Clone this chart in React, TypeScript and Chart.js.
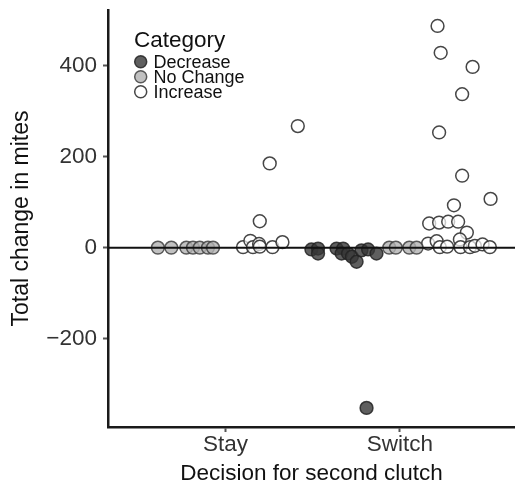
import React, { useEffect, useRef } from "react";
import { Chart, registerables } from "chart.js";

Chart.register(...registerables);

const decisions = ["Stay", "Switch"];
const yTickValues = [-200, 0, 200, 400];
const categories = ["Decrease", "No Change", "Increase"];

// jittered x positions (1 = Stay, 2 = Switch) and values
const decreaseX = [1.493, 1.531, 1.531, 1.637, 1.675, 1.666, 1.703, 1.725, 1.752, 1.780, 1.818, 1.866, 1.809];
const decreaseY = [-4, -2, -13, -2, -2, -13, -13, -20, -31, -6, -4, -13, -352];

const noChangeX = [0.613, 0.690, 0.776, 0.814, 0.853, 0.900, 0.929, 1.939, 1.977, 2.054, 2.096];
const noChangeY = [0, 0, 0, 0, 0, 0, 0, 0, 0, 0, 0];

const increaseX = [
  1.101, 1.143, 1.158, 1.193, 1.197, 1.270, 1.327, 1.197, 1.254, 1.415,
  2.216, 2.234, 2.417, 2.357, 2.225, 2.357, 2.520, 2.310, 2.168, 2.225, 2.277, 2.334,
  2.384, 2.344, 2.162, 2.211, 2.229, 2.271, 2.348, 2.402, 2.430, 2.474, 2.516,
];
const increaseY = [
  1, 15, 1, 8, 2, 1, 12, 58, 185, 267,
  487, 428, 397, 337, 253, 158, 107, 93, 53, 55, 57, 57,
  33, 18, 9, 14, 1, 2, 1, 1, 4, 7, 1,
];

const fills = ["rgba(55,55,55,0.8)", "rgba(178,178,178,0.8)", "rgba(255,255,255,0.7)"];
const borders = ["rgba(35,35,35,0.85)", "rgba(65,65,65,0.85)", "rgba(50,50,50,0.9)"];

const FONT = "'Liberation Sans', Arial, Helvetica, sans-serif";

const zip = (xs: number[], ys: number[]) => xs.map((x, i) => ({ x, y: ys[i] }));

const extrasPlugin = {
  id: "extras",
  afterDatasetsDraw(chart: any) {
    const { ctx, chartArea, scales } = chart;
    const y0 = scales.y.getPixelForValue(0);
    ctx.save();
    ctx.strokeStyle = "#111";
    ctx.lineWidth = 2;
    ctx.beginPath();
    ctx.moveTo(chartArea.left, y0);
    ctx.lineTo(chartArea.right, y0);
    ctx.stroke();
    ctx.restore();
  },
  afterDraw(chart: any) {
    const { ctx } = chart;
    ctx.save();
    ctx.fillStyle = "#111";
    ctx.textBaseline = "alphabetic";
    ctx.textAlign = "left";
    ctx.font = `22.5px ${FONT}`;
    ctx.fillText("Category", 134, 46.5);
    ctx.font = `18px ${FONT}`;
    ctx.textBaseline = "middle";
    const ys = [61.7, 76.7, 91.7];
    categories.forEach((c, i) => {
      ctx.beginPath();
      ctx.arc(140.7, ys[i], 6, 0, Math.PI * 2);
      ctx.fillStyle = i === 2 ? "#fff" : fills[i];
      ctx.fill();
      ctx.lineWidth = 1.5;
      ctx.strokeStyle = borders[i];
      ctx.stroke();
      ctx.fillStyle = "#111";
      ctx.fillText(c, 153.5, ys[i] + 1);
    });
    ctx.restore();
  },
};

export default function App() {
  const ref = useRef<HTMLCanvasElement>(null);
  useEffect(() => {
    if (!ref.current) return;
    const series = [zip(decreaseX, decreaseY), zip(noChangeX, noChangeY), zip(increaseX, increaseY)];
    const chart = new Chart(ref.current, {
      type: "scatter",
      data: {
        datasets: categories.map((c, i) => ({
          label: c,
          data: series[i],
          backgroundColor: fills[i],
          borderColor: borders[i],
          borderWidth: 1.5,
          pointRadius: 6.4,
          pointHoverRadius: 6.4,
          clip: false as any,
        })),
      },
      options: {
        responsive: false,
        animation: false,
        layout: { autoPadding: false, padding: { top: 10, right: 0, left: 0, bottom: 0 } },
        plugins: { legend: { display: false }, tooltip: { enabled: false } },
        scales: {
          x: {
            type: "linear",
            min: 0.327,
            max: 2.66,
            afterFit: (s: any) => { s.height = 56; s.paddingLeft = 0; s.paddingRight = 0; },
            afterBuildTicks: (s: any) => { s.ticks = [1, 2].map((v) => ({ value: v })); },
            ticks: {
              callback: (v: any) => decisions[Number(v) - 1] ?? "",
              font: { family: FONT, size: 22.5, lineHeight: 1 },
              color: "#333",
              padding: 1.6,
              maxRotation: 0,
              autoSkip: false,
            },
            grid: { display: true, drawOnChartArea: false, drawTicks: true, tickLength: 5, tickColor: "#555", tickWidth: 2 },
            border: { display: true, color: "#1a1a1a", width: 2.5 },
            title: {
              display: true,
              text: "Decision for second clutch",
              font: { family: FONT, size: 22.5, lineHeight: 0.8 },
              color: "#111",
              padding: { top: 0, bottom: 0 },
            },
          },
          y: {
            type: "linear",
            min: -394,
            max: 522,
            afterFit: (s: any) => { s.width = 108; s.paddingTop = 0; s.paddingBottom = 0; },
            afterBuildTicks: (s: any) => { s.ticks = yTickValues.map((v) => ({ value: v })); },
            ticks: {
              callback: (v: any) => String(v).replace("-", "\u2212"),
              font: { family: FONT, size: 22.5, lineHeight: 1 },
              color: "#333",
              padding: 6,
            },
            grid: { display: true, drawOnChartArea: false, drawTicks: true, tickLength: 5, tickColor: "#555", tickWidth: 2 },
            border: { display: true, color: "#1a1a1a", width: 2.5 },
            title: {
              display: true,
              text: "Total change in mites",
              font: { family: FONT, size: 23, lineHeight: 1 },
              color: "#111",
              padding: { top: 10.5, bottom: 0 },
            },
          },
        },
      },
      plugins: [extrasPlugin],
    });
    return () => chart.destroy();
  }, []);
  return (
    <div style={{ position: "fixed", left: 0, top: 0, width: 515, height: 483, background: "#fff" }}>
      <canvas ref={ref} width={515} height={483} />
    </div>
  );
}
